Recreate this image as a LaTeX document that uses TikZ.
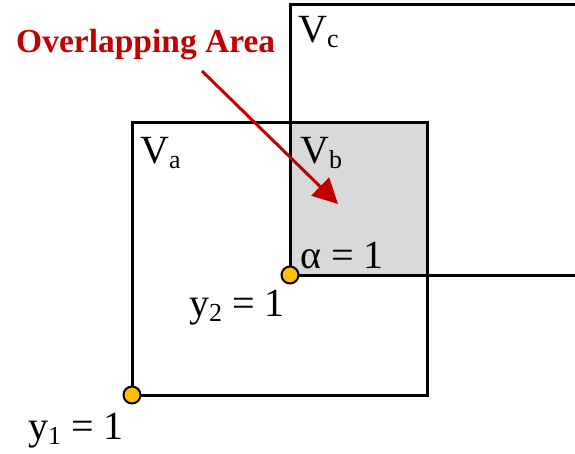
\documentclass[tikz,border=0pt]{standalone}
\usepackage{fontspec}
\setmainfont{Liberation Serif}
\usetikzlibrary{arrows.meta,positioning}
\definecolor{darkred}{HTML}{C00000}
\definecolor{amber}{HTML}{FFC000}
\definecolor{shadegray}{HTML}{D9D9D9}
\newcommand{\lowsub}[1]{\raisebox{-5pt}{\fontsize{26}{28}\selectfont #1}}
\begin{document}
\begin{tikzpicture}[x=1pt,y=-1pt,
  frame/.style={line width=3pt,black},
  joint/.style={circle,draw=black,line width=2pt,fill=amber,minimum size=17pt,inner sep=0pt},
  lbl/.style={font=\fontsize{40}{44}\selectfont,inner sep=0pt,anchor=base west},
  redarrow/.style={draw=darkred,line width=3pt,-{Triangle[length=25pt,width=25pt]}}]
\useasboundingbox (0,0) rectangle (575,454);
% overlapping part of the two windows
\fill[shadegray] (290,123) rectangle (427,275);
\draw[frame] (132,123) rectangle (427,395);
\draw[frame] (576,5) -- (290,5) -- (290,275) -- (576,275);

% labels
\node[lbl] (vc) at (298,43) {V\lowsub{c}};
\node[lbl] (va) at (140,164) {V\lowsub{a}};
\node[lbl] (vb) at (300,164) {V\lowsub{b}};
\node[lbl] (alpha) at (300,268) {α = 1};
\node[lbl] (y2) at (189,316) {y\lowsub{2} = 1};
\node[lbl] (y1) at (28,439) {y\lowsub{1} = 1};

% corner points
\node[joint] (p1) at (132,395) {};
\node[joint] (p2) at (290,275) {};

% pointer to the shaded area
\node[font=\bfseries\fontsize{33.5}{36}\selectfont,text=darkred,inner sep=0pt,anchor=base west] (ovl) at (16,53) {Overlapping Area};
\coordinate (tail) at (202,71);
\coordinate (tip) at (338,204);
\draw[redarrow] (tail) -- (tip);
\end{tikzpicture}
\end{document}
